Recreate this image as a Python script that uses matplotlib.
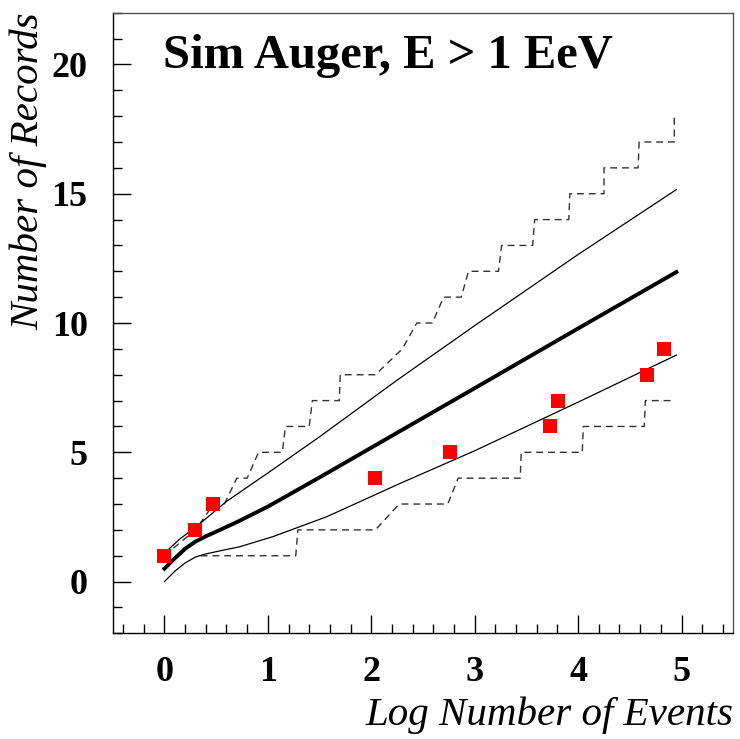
import matplotlib
matplotlib.use("Agg")
import matplotlib.pyplot as plt
from matplotlib.ticker import MultipleLocator

# record events: log10 of event number at which a new record appeared
rec_x = [0.0, 0.30, 0.47, 2.04, 2.76, 3.73, 3.81, 4.67, 4.83]
rec_y = [1, 2, 3, 4, 5, 6, 7, 8, 9]

# expected number of records (thick) and +/- 1 sigma band (thin)
mean_x = [0.0, 0.1, 0.2, 0.3, 0.4, 0.5, 0.7, 1.0, 1.5, 2.0, 3.0, 4.0, 4.95]
mean_y = [0.5, 0.9, 1.27, 1.55, 1.75, 1.93, 2.3, 2.9, 4.03, 5.18, 7.48, 9.79, 11.97]

up_x = [0.0, 0.15, 0.3, 0.45, 0.6, 1.0, 1.5, 2.26, 3.0, 4.0, 4.95]
up_y = [1.1, 1.65, 2.1, 2.6, 3.1, 4.2, 5.6, 7.82, 9.9, 12.65, 15.16]

lo_x = [0.0, 0.1, 0.2, 0.3, 0.4, 0.55, 0.73, 1.05, 1.57, 2.28, 3.0, 4.0, 4.95]
lo_y = [0.0, 0.4, 0.72, 0.95, 1.07, 1.2, 1.35, 1.74, 2.51, 3.80, 5.06, 6.94, 8.76]

# simulated bands (dashed steps)
hi_dash_x = [0.0, 0.30, 0.477, 0.58, 0.70, 0.80, 0.91, 1.14, 1.17, 1.40, 1.43, 1.69,
             1.70, 2.04, 2.30, 2.44, 2.59, 2.70, 2.87, 2.94, 3.23, 3.26, 3.56, 3.58,
             3.91, 3.92, 4.25, 4.25, 4.58, 4.59, 4.93, 4.93]
hi_dash_y = [1, 2, 3, 3, 4, 4, 5, 5, 6, 6, 7, 7,
             8, 8, 9, 10, 10, 11, 11, 12, 12, 13, 13, 14,
             14, 15, 15, 16, 16, 17, 17, 18]

lo_dash_x = [0.35, 1.27, 1.29, 2.04, 2.27, 2.74, 2.84, 3.44, 3.45, 4.04, 4.05, 4.64, 4.65, 4.93]
lo_dash_y = [1, 1, 2, 2, 3, 3, 4, 4, 5, 5, 6, 6, 7, 7]

plt.rcParams["font.family"] = ["Liberation Serif", "DejaVu Serif"]

fig = plt.figure(figsize=(7.4, 7.39), dpi=100)
ax = fig.add_axes([0.1523, 0.143, 0.8386, 0.8398])

ax.plot(hi_dash_x, hi_dash_y, color="#333333", lw=1.0, ls=(0, (5, 3.5)))
ax.plot(lo_dash_x, lo_dash_y, color="#333333", lw=1.0, ls=(0, (5, 3.5)))
ax.plot(up_x, up_y, color="black", lw=0.9)
ax.plot(lo_x, lo_y, color="black", lw=0.9)
ax.plot(mean_x, mean_y, color="black", lw=2.8)
ax.plot(rec_x, rec_y, "s", color="#ff0000", ms=9.5, mew=0, zorder=5)

ax.set_xlim(-0.5, 5.5)
ax.set_ylim(-2, 22)
ax.xaxis.set_major_locator(MultipleLocator(1))
ax.xaxis.set_minor_locator(MultipleLocator(0.2))
ax.yaxis.set_major_locator(MultipleLocator(5))
ax.yaxis.set_minor_locator(MultipleLocator(1))
ax.tick_params(which="both", direction="in", top=False, right=False, width=1.0)
ax.tick_params(which="major", length=13)
ax.tick_params(which="minor", length=6.5)
ax.tick_params(axis="x", which="major", pad=16, labelsize=26)
ax.tick_params(axis="y", which="major", pad=18, labelsize=26)
for lab in ax.get_xticklabels() + ax.get_yticklabels():
    lab.set_fontweight("bold")
for sp in ax.spines.values():
    sp.set_linewidth(1.0)
ax.spines["top"].set_color("#555555")
ax.spines["right"].set_color("#555555")

ax.set_xlabel("Log Number of Events", fontsize=29.5, style="italic", loc="right", labelpad=6)
ax.set_ylabel("Number of Records", fontsize=29.5, style="italic", loc="top", labelpad=3)

ax.text(0.081, 0.911, "Sim Auger, E > 1 EeV", transform=ax.transAxes,
        fontsize=35, fontweight="bold", ha="left", va="baseline")

fig.savefig("out.png", dpi=100)
